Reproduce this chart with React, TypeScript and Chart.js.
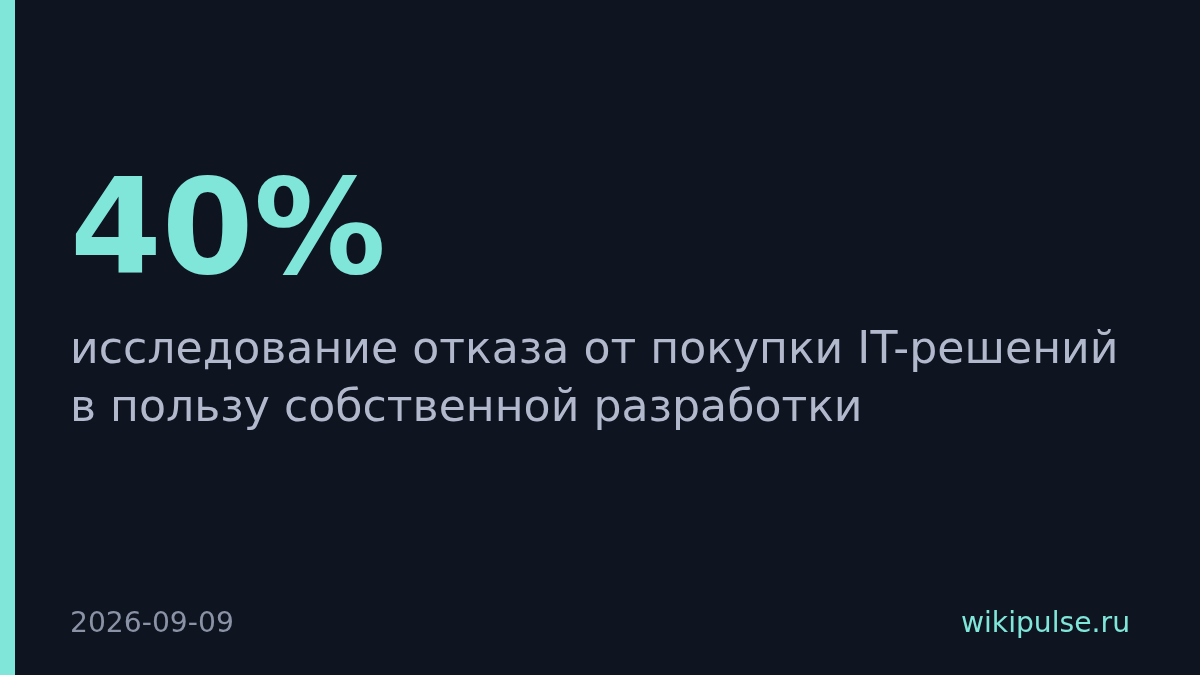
import { useEffect, useRef } from 'react';
import { Chart, registerables } from 'chart.js';

Chart.register(...registerables);

// Card content
const statValues = [40];
const statUnit = '%';
const captionLines = [
  'исследование отказа от покупки IT-решений',
  'в пользу собственной разработки',
];
const footerDate = '2026-09-09';
const footerSite = 'wikipulse.ru';

const BG = '#0e1420';
const ACCENT = '#80e6d9';
const CAPTION = '#b3b9cc';
const MUTED = '#8a92a5';
const FONT = '"DejaVu Sans", "Noto Sans", sans-serif';

// Draws the card background, accent stripe and texts on the chart canvas
const cardPlugin = {
  id: 'statCard',
  beforeDraw(chart: Chart) {
    const { ctx, width, height } = chart;
    ctx.save();
    ctx.fillStyle = BG;
    ctx.fillRect(0, 0, width, height);
    ctx.fillStyle = ACCENT;
    ctx.fillRect(0, 0, 15, height);

    ctx.textBaseline = 'alphabetic';
    ctx.textAlign = 'left';

    ctx.fillStyle = ACCENT;
    ctx.font = `bold 132px ${FONT}`;
    ctx.fillText(`${statValues[0]}${statUnit}`, 70, 273);

    ctx.fillStyle = CAPTION;
    ctx.font = `44.2px ${FONT}`;
    captionLines.forEach((line, i) => {
      ctx.fillText(line, 70, 363 + i * 58);
    });

    ctx.font = `28.2px ${FONT}`;
    ctx.fillStyle = MUTED;
    ctx.fillText(footerDate, 70, 632);
    ctx.textAlign = 'right';
    ctx.fillStyle = ACCENT;
    ctx.fillText(footerSite, 1130, 632);
    ctx.restore();
  },
};

const StatCard = () => {
  const chartRef = useRef<HTMLCanvasElement>(null);
  const chartInstance = useRef<Chart | null>(null);

  useEffect(() => {
    document.body.style.margin = '0';
    document.body.style.background = BG;
    if (!chartRef.current) return;
    if (chartInstance.current) chartInstance.current.destroy();

    chartInstance.current = new Chart(chartRef.current, {
      type: 'bar',
      data: {
        labels: [],
        datasets: [],
      },
      options: {
        animation: false,
        responsive: true,
        maintainAspectRatio: false,
        events: [],
        layout: { padding: 0 },
        plugins: {
          legend: { display: false },
          tooltip: { enabled: false },
          title: { display: false },
        },
        scales: {
          x: { display: false },
          y: { display: false },
        },
      },
      plugins: [cardPlugin],
    });

    return () => {
      if (chartInstance.current) {
        chartInstance.current.destroy();
        chartInstance.current = null;
      }
    };
  }, []);

  return (
    <div style={{ width: 1200, height: 675, position: 'relative' }}>
      <canvas ref={chartRef} />
    </div>
  );
};

export default function App() {
  return <StatCard />;
}
